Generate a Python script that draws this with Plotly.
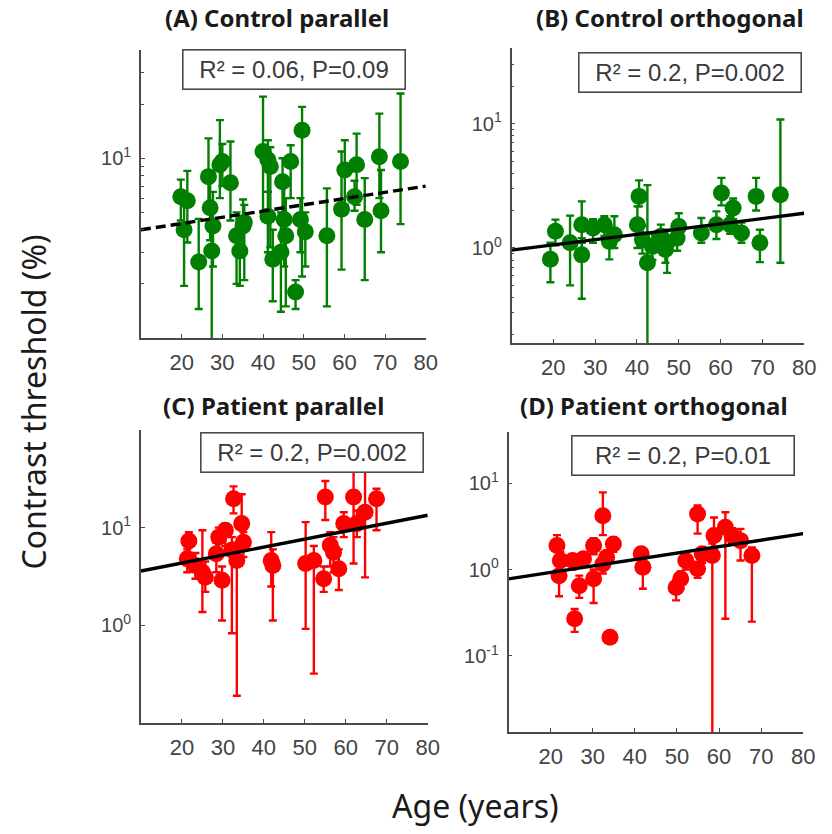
import numpy as np
import plotly.graph_objects as go

# ---------------- data ----------------
# Panel A: Control parallel
age_A = [19.8, 21.4, 20.6, 24.2, 26.6, 27.0, 27.7, 27.4, 29.4, 30.0, 32.0, 33.5, 34.3, 35.1, 35.4,
         40.0, 41.2, 41.2, 42.4, 41.8, 44.8, 46.8, 45.2, 45.6, 44.4, 48.0, 49.6, 49.2, 50.4,
         55.7, 59.3, 60.1, 63.0, 62.5, 65.0, 68.6, 69.0, 73.8]
val_A = [6.1, 5.8, 4.0, 2.65, 7.9, 5.3, 4.2, 3.05, 9.2, 9.6, 7.3, 3.7, 3.05, 4.2, 4.4,
         10.9, 9.8, 4.75, 2.74, 9.0, 7.4, 9.6, 4.56, 3.7, 3.0, 1.8, 14.3, 4.56, 3.9,
         3.7, 5.2, 8.6, 9.2, 6.1, 4.56, 10.2, 5.1, 9.6]
lo_A = [4.5, 3.4, 1.95, 1.45, 5.0, 3.5, 2.5, 0.5, 6.0, 7.0, 4.5, 2.0, 1.95, 3.0, 2.1,
        5.0, 6.5, 3.0, 1.6, 3.2, 4.5, 6.0, 2.5, 1.5, 1.4, 1.45, 2.2, 3.0, 2.5,
        1.5, 2.4, 5.5, 5.5, 5.1, 2.1, 6.0, 3.0, 4.3]
hi_A = [7.6, 8.5, 5.5, 4.6, 12.9, 7.5, 6.5, 5.0, 16.3, 12.0, 12.4, 5.0, 4.5, 5.9, 5.5,
        22.0, 12.6, 6.5, 4.0, 11.5, 10.0, 11.8, 7.0, 6.0, 5.0, 2.1, 19.3, 6.0, 5.0,
        6.8, 10.9, 12.6, 13.7, 7.5, 7.75, 17.7, 8.6, 22.9]

# Panel B: Control orthogonal
age_B = [19.3, 20.5, 24.0, 26.8, 26.8, 29.5, 32.2, 33.4, 34.6, 40.5, 40.1, 42.5, 41.3, 43.7,
         45.7, 47.2, 46.8, 49.6, 50.0, 55.4, 59.0, 60.2, 63.0, 62.3, 65.0, 68.5, 69.4, 74.3]
val_B = [0.81, 1.36, 1.1, 1.54, 0.88, 1.45, 1.54, 1.13, 1.28, 2.6, 1.54, 0.76, 1.17, 1.03,
         1.24, 1.1, 0.97, 1.2, 1.49, 1.32, 1.54, 2.77, 2.1, 1.54, 1.32, 2.6, 1.1, 2.68]
lo_B = [0.53, 1.05, 0.5, 1.1, 0.39, 1.1, 1.25, 0.81, 1.0, 2.16, 1.0, 0.1, 0.9, 0.8,
        1.0, 0.63, 0.76, 0.95, 1.2, 1.1, 1.18, 2.2, 1.7, 1.3, 1.1, 2.0, 0.77, 0.76]
hi_B = [1.1, 1.69, 1.82, 2.37, 1.2, 1.7, 1.8, 1.4, 1.8, 3.5, 2.16, 3.2, 1.5, 1.3,
        1.54, 1.4, 1.2, 1.5, 1.9, 1.74, 1.97, 3.66, 2.5, 1.8, 1.6, 3.66, 1.4, 10.8]

# Panel C: Patient parallel
age_C = [21.7, 21.3, 23.3, 25.0, 25.7, 29.8, 29.0, 30.6, 32.6, 34.6, 35.0, 33.4, 32.2, 28.4,
         41.8, 42.2, 50.2, 52.2, 55.0, 56.2, 54.6, 58.3, 57.0, 59.5, 61.9, 64.7, 67.5, 62.7]
val_C = [7.3, 4.8, 4.1, 3.5, 3.1, 2.9, 8.0, 9.4, 19.8, 11.0, 7.1, 4.6, 5.9, 5.4,
         4.6, 4.1, 4.3, 4.6, 20.6, 6.6, 3.0, 3.8, 5.6, 11.0, 20.6, 14.4, 19.8, 11.0]
lo_C = [5.5, 3.5, 3.0, 1.37, 2.2, 1.12, 5.5, 6.5, 14.0, 8.0, 5.0, 0.19, 0.83, 3.5,
        2.5, 1.12, 0.92, 0.32, 12.0, 4.0, 2.2, 2.3, 3.5, 8.0, 4.3, 3.1, 9.4, 8.0]
hi_C = [9.0, 6.0, 5.5, 9.4, 4.5, 4.0, 10.0, 11.0, 26.5, 22.0, 9.0, 7.0, 8.0, 7.0,
        9.0, 6.0, 11.4, 6.5, 30.0, 9.0, 4.0, 6.0, 8.0, 14.4, 39.0, 40.0, 25.0, 15.0]

# Panel D: Patient orthogonal
age_D = [21.5, 22.3, 22.0, 25.2, 26.8, 25.7, 27.8, 30.2, 30.2, 32.4, 32.4, 34.9, 33.3, 34.1,
         41.5, 41.9, 49.8, 50.9, 52.1, 54.9, 54.9, 56.0, 58.4, 58.8, 61.5, 63.1, 65.1, 67.8]
val_D = [1.9, 1.27, 0.85, 1.27, 0.65, 0.27, 1.33, 1.9, 0.78, 4.2, 1.16, 1.98, 1.39, 0.165,
         1.52, 1.06, 0.62, 0.78, 1.27, 4.4, 1.02, 1.52, 1.45, 2.47, 3.08, 2.47, 2.16, 1.45]
lo_D = [1.3, 0.9, 0.49, 1.0, 0.47, 0.19, 1.1, 1.5, 0.41, 2.5, 0.9, 1.6, 1.1, 0.165,
        1.2, 0.6, 0.44, 0.6, 1.0, 2.6, 0.8, 1.2, 0.005, 1.8, 0.27, 2.0, 1.27, 0.25]
hi_D = [2.5, 1.6, 1.1, 1.5, 0.85, 0.35, 1.5, 2.3, 1.0, 7.8, 1.4, 2.3, 1.6, 0.165,
        1.8, 1.3, 0.75, 0.95, 1.5, 5.5, 1.2, 1.8, 2.0, 4.0, 4.6, 3.0, 2.95, 1.8]

# regression lines (value at age 10 and age 80)
fit_age = [10, 80]
fit_A = [4.0, 7.0]
fit_B = [0.96, 1.9]
fit_C = [3.6, 13.4]
fit_D = [0.78, 2.6]

titles = ["(A) Control parallel", "(B) Control orthogonal",
          "(C) Patient parallel", "(D) Patient orthogonal"]
stats = ["R² = 0.06, P=0.09", "R² = 0.2, P=0.002", "R² = 0.2, P=0.002", "R² = 0.2, P=0.01"]

x_ticks = [20, 30, 40, 50, 60, 70, 80]

# y tick labels per panel (value -> label)
ylab_A = {10: "10<sup>1</sup>"}
ylab_B = {1: "10<sup>0</sup>", 10: "10<sup>1</sup>"}
ylab_C = {1: "10<sup>0</sup>", 10: "10<sup>1</sup>"}
ylab_D = {0.1: "10<sup>-1</sup>", 1: "10<sup>0</sup>", 10: "10<sup>1</sup>"}

# ---------------- styling / layout ----------------
W, H = 832, 834
GREEN = "#007f00"
RED = "#ff0000"
AXIS_COLOR = "#4a4a4a"
XTICK_FONT = dict(family="Liberation Sans, Arial", size=22, color="#444444")
YTICK_FONT = dict(family="Liberation Sans, Arial", size=20, color="#444444")
LABEL_FONT = dict(family="Noto Sans, Open Sans", size=32, color="#1a1a1a")


def px_x(v):
    return v / W


def px_y(v):
    return 1 - v / H


panels = [
    dict(age=age_A, val=val_A, lo=lo_A, hi=hi_A, fit=fit_A, color=GREEN, dash="10px,5px",
         xdom=[px_x(143), px_x(432)], ydom=[px_y(338), px_y(50)],
         yrange=[0, np.log10(40)], minor=True, labels=ylab_A,
         box=(298.5, 69), title=(281, 18)),
    dict(age=age_B, val=val_B, lo=lo_B, hi=hi_B, fit=fit_B, color=GREEN, dash="solid",
         xdom=[px_x(519), px_x(816)], ydom=[px_y(343), px_y(48)],
         yrange=[np.log10(0.172), np.log10(40.6)], minor=True, labels=ylab_B,
         box=(700.5, 72.7), title=(680, 18)),
    dict(age=age_C, val=val_C, lo=lo_C, hi=hi_C, fit=fit_C, color=RED, dash="solid",
         xdom=[px_x(143), px_x(434)], ydom=[px_y(723), px_y(430)],
         yrange=[-1, 2], minor=False, labels=ylab_C,
         box=(317, 453), title=(278, 405)),
    dict(age=age_D, val=val_D, lo=lo_D, hi=hi_D, fit=fit_D, color=RED, dash="solid",
         xdom=[px_x(516), px_x(815)], ydom=[px_y(732), px_y(432)],
         yrange=[np.log10(0.0132), np.log10(39)], minor=False, labels=ylab_D,
         box=(693.5, 455), title=(664, 405)),
]

fig = go.Figure()
layout = dict(width=W, height=H, margin=dict(l=0, r=0, t=0, b=0),
              paper_bgcolor="white", plot_bgcolor="white", showlegend=False)
annotations = []

for i, p in enumerate(panels):
    n = "" if i == 0 else str(i + 1)
    xa, ya = "x" + n, "y" + n
    val = np.array(p["val"])
    up = np.array(p["hi"]) - val
    dn = val - np.array(p["lo"])
    fig.add_trace(go.Scatter(
        x=p["age"], y=p["val"], mode="markers", xaxis=xa, yaxis=ya,
        marker=dict(color=p["color"], size=17, line=dict(width=0)),
        error_y=dict(type="data", symmetric=False, array=up, arrayminus=dn,
                     color=p["color"], thickness=2.4, width=4),
    ))
    fig.add_trace(go.Scatter(
        x=fit_age, y=p["fit"], mode="lines", xaxis=xa, yaxis=ya,
        line=dict(color="black", width=3.4, dash=p["dash"]),
    ))

    # major (labelled) and minor (unlabelled) log ticks
    major_v = list(p["labels"].keys())
    major_t = list(p["labels"].values())
    minor_v = []
    if p["minor"]:
        lo_e = int(np.floor(p["yrange"][0]))
        hi_e = int(np.ceil(p["yrange"][1]))
        for e in range(lo_e, hi_e + 1):
            for m in range(1, 10):
                v = m * 10.0 ** e
                if p["yrange"][0] - 1e-6 <= np.log10(v) <= p["yrange"][1] + 1e-6:
                    minor_v.append(v)

    layout["xaxis" + n] = dict(
        domain=p["xdom"], anchor=ya, range=[10, 80], tickvals=x_ticks,
        ticktext=[str(t) for t in x_ticks], ticks="inside", ticklen=4, tickwidth=1,
        tickcolor=AXIS_COLOR, showline=True, linecolor=AXIS_COLOR, linewidth=1.6,
        mirror=False, showgrid=False, zeroline=False, tickfont=XTICK_FONT,
        ticklabelstandoff=4,
    )
    yax = dict(
        domain=p["ydom"], anchor=xa, type="log", range=p["yrange"], tickvals=major_v,
        ticktext=major_t, ticks="inside", ticklen=4, tickwidth=1, tickcolor=AXIS_COLOR,
        showline=True, linecolor=AXIS_COLOR, linewidth=1.6, mirror=False,
        showgrid=False, zeroline=False, tickfont=YTICK_FONT, ticklabelstandoff=4,
    )
    if minor_v:
        yax["minor"] = dict(tickmode="array", tickvals=minor_v, ticks="inside",
                            ticklen=3, tickwidth=1, tickcolor=AXIS_COLOR, showgrid=False)
    layout["yaxis" + n] = yax

    bx, by = p["box"]
    annotations.append(dict(
        x=px_x(bx), y=px_y(by), xref="paper", yref="paper", xanchor="center",
        yanchor="middle", text=stats[i], showarrow=False,
        font=dict(family="Liberation Sans, Arial", size=24, color="#3a3a3a"),
        bgcolor="white", bordercolor="#4a4a4a", borderwidth=1.6, borderpad=0,
        width=221, height=38,
    ))
    tx, ty = p["title"]
    annotations.append(dict(
        x=px_x(tx), y=px_y(ty), xref="paper", yref="paper", xanchor="center",
        yanchor="middle", text="<b>" + titles[i] + "</b>", showarrow=False,
        font=dict(family="Noto Sans, Open Sans", size=24, color="#1a1a1a"),
    ))

annotations.append(dict(
    x=px_x(33), y=px_y(402), xref="paper", yref="paper", xanchor="center",
    yanchor="middle", text="Contrast threshold (%)", textangle=-90, showarrow=False,
    font=LABEL_FONT,
))
annotations.append(dict(
    x=px_x(482), y=px_y(805), xref="paper", yref="paper", xanchor="center",
    yanchor="middle", text="Age (years)", showarrow=False,
    font=LABEL_FONT,
))
layout["annotations"] = annotations
fig.update_layout(**layout)
fig.write_html("out.html")
